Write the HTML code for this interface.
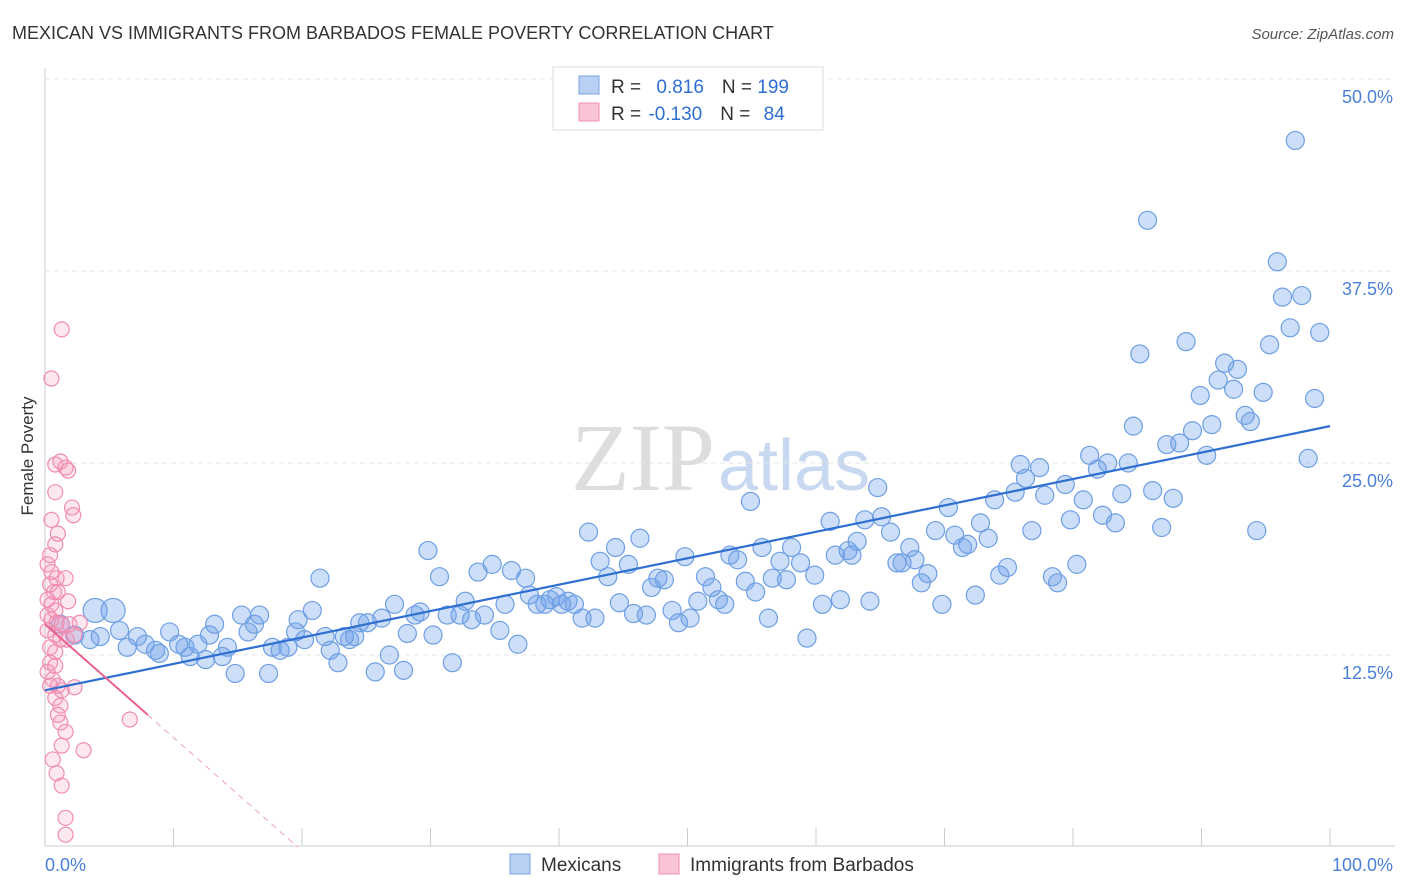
<!DOCTYPE html>
<html><head><meta charset="utf-8"><style>
body{margin:0;background:#fff;font-family:"Liberation Sans",sans-serif;overflow:hidden}
svg{display:block}
</style></head><body>
<svg id="c" width="1406" height="892">
<text x="12" y="39" font-size="18" fill="#333">MEXICAN VS IMMIGRANTS FROM BARBADOS FEMALE POVERTY CORRELATION CHART</text>
<text x="1394" y="39" font-size="15" fill="#555" font-style="italic" text-anchor="end">Source: ZipAtlas.com</text>
<text x="33" y="456" font-size="17" fill="#333" transform="rotate(-90 33 456)" text-anchor="middle">Female Poverty</text>
<text x="715" y="490" font-size="96" fill="#ddd" text-anchor="end" font-family="Liberation Serif">ZIP</text>
<text x="718" y="490" font-size="72" fill="#c8d8f0">atlas</text>
<g id="grid"></g><g id="pts"></g><g id="lines"></g>
<g>
<rect x="553" y="67" width="270" height="63" fill="#fff" stroke="#ddd"/>
<rect x="579" y="76" width="20" height="18" fill="#b8d0f4" stroke="#7aa3e0"/>
<rect x="579" y="103" width="20" height="18" fill="#f9c4d4" stroke="#f090b0"/>
<text x="611" y="93" font-size="19" fill="#333">R = <tspan fill="#2f6fd0" dx="10">0.816</tspan><tspan dx="18" fill="#333">N = </tspan><tspan fill="#2f6fd0">199</tspan></text>
<text x="611" y="120" font-size="19" fill="#333">R = <tspan fill="#2f6fd0" dx="2">-0.130</tspan><tspan dx="18" fill="#333">N = </tspan><tspan fill="#2f6fd0" dx="8">84</tspan></text>
</g>
<g>
<rect x="510" y="854" width="20" height="20" fill="#b8d0f4" stroke="#7aa3e0"/>
<text x="541" y="871" font-size="19" fill="#333">Mexicans</text>
<rect x="659" y="854" width="20" height="20" fill="#f9c4d4" stroke="#f090b0"/>
<text x="690" y="871" font-size="19" fill="#333">Immigrants from Barbados</text>
</g>
</svg>
<script>
const yTicks=[12.5,25,37.5,50];
const yTickLabels=["12.5%","25.0%","37.5%","50.0%"];
const xTickLabels=["0.0%","100.0%"];
const blueX=[3.9,5.3,1.2,2.3,3.5,4.3,5.8,6.4,7.2,7.8,8.6,8.9,9.7,10.4,10.9,11.3,11.9,12.5,12.8,13.2,13.8,14.2,14.8,15.3,15.8,16.3,16.7,17.4,17.7,18.3,18.9,19.5,19.7,20.2,20.8,21.4,21.8,22.2,22.8,23.3,23.7,24.1,24.5,25.1,25.7,26.2,26.8,27.2,27.9,28.2,28.8,29.2,29.8,30.2,30.7,31.3,31.7,32.3,32.7,33.2,33.7,34.2,34.8,35.4,35.8,36.3,36.8,37.4,37.7,38.3,38.9,39.3,39.8,40.2,40.7,41.2,41.8,42.3,42.8,43.2,43.8,44.4,44.7,45.4,45.8,46.3,46.8,47.2,47.7,48.2,48.8,49.3,49.8,50.2,50.8,51.4,51.9,52.4,52.9,53.3,53.9,54.5,54.9,55.3,55.8,56.3,56.6,57.2,57.7,58.1,58.8,59.3,59.9,60.5,61.1,61.5,61.9,62.5,62.8,63.2,63.8,64.2,64.8,65.1,65.8,66.3,66.7,67.3,67.7,68.2,68.7,69.3,69.8,70.3,70.8,71.4,71.8,72.4,72.8,73.4,73.9,74.3,74.9,75.5,75.9,76.3,76.8,77.4,77.8,78.4,78.8,79.4,79.8,80.3,80.8,81.3,81.9,82.3,82.7,83.3,83.8,84.3,84.7,85.2,85.8,86.2,86.9,87.3,87.8,88.3,88.8,89.3,89.9,90.4,90.8,91.3,91.8,92.5,92.8,93.4,93.8,94.3,94.8,95.3,95.9,96.3,96.9,97.3,97.8,98.3,98.8,99.2];
const blueY=[15.4,15.4,14.5,13.8,13.5,13.7,14.1,13.0,13.7,13.2,12.8,12.6,14.0,13.2,13.0,12.4,13.2,12.2,13.8,14.5,12.4,13.0,11.3,15.1,14.0,14.5,15.1,11.3,13.0,12.8,13.0,14.0,14.8,13.5,15.4,17.5,13.7,12.8,12.0,13.7,13.5,13.7,14.6,14.6,11.4,14.9,12.5,15.8,11.5,13.9,15.1,15.3,19.3,13.8,17.6,15.1,12.0,15.1,16.0,14.8,17.9,15.1,18.4,14.1,15.8,18.0,13.2,17.5,16.4,15.8,15.8,16.1,16.3,15.8,16.0,15.8,14.9,20.5,14.9,18.6,17.6,19.5,15.9,18.4,15.2,20.1,15.1,16.9,17.5,17.4,15.4,14.6,18.9,14.9,16.0,17.6,16.9,16.1,15.8,19.0,18.7,17.3,22.5,16.6,19.5,14.9,17.5,18.6,17.4,19.5,18.5,13.6,17.7,15.8,21.2,19.0,16.1,19.3,19.0,19.9,21.3,16.0,23.4,21.5,20.5,18.5,18.5,19.5,18.7,17.2,17.8,20.6,15.8,22.1,20.3,19.5,19.7,16.4,21.1,20.1,22.6,17.7,18.2,23.1,24.9,24.0,20.6,24.7,22.9,17.6,17.2,23.6,21.3,18.4,22.6,25.5,24.6,21.6,25.0,21.1,23.0,25.0,27.4,32.1,40.8,23.2,20.8,26.2,22.7,26.3,32.9,27.1,29.4,25.5,27.5,30.4,31.5,29.8,31.1,28.1,27.7,20.6,29.6,32.7,38.1,35.8,33.8,46.0,35.9,25.3,29.2,33.5];
const pinkX=[1.3,0.5,0.8,1.2,1.6,1.8,0.8,0.5,2.1,2.2,1.0,0.8,0.4,0.2,0.5,0.9,1.6,0.4,0.7,1.0,0.2,0.5,0.8,1.8,0.2,0.5,0.9,1.3,1.9,2.7,0.2,0.8,1.2,1.7,2.3,0.4,0.8,0.4,0.8,0.2,0.6,1.0,1.3,2.3,0.4,0.8,1.2,1.0,1.2,1.6,6.6,1.3,3.0,0.6,0.9,1.3,1.6,1.6];
const pinkY=[33.7,30.5,24.9,25.1,24.7,24.5,23.1,21.3,22.1,21.6,20.4,19.7,19.0,18.4,17.9,17.5,17.5,17.1,16.6,16.6,16.1,15.8,15.4,16.0,15.1,14.8,14.6,14.5,14.5,14.6,14.1,13.8,13.5,13.5,13.8,13.0,12.7,12.0,11.8,11.4,10.9,10.5,10.2,10.4,10.5,9.7,9.2,8.6,8.1,7.5,8.3,6.6,6.3,5.7,4.8,4.0,1.9,0.8];
const blueTrend=[10.2,27.4];
const pinkTrendX=[0,8];
const pinkTrendY=[14.5,8.6];
const NS="http://www.w3.org/2000/svg";
const X=v=>45+v*12.85, Y=v=>847-v*15.36;
function mk(t,a,p){const e=document.createElementNS(NS,t);for(const k in a)e.setAttribute(k,a[k]);p.appendChild(e);return e;}
const grid=document.getElementById('grid'),pts=document.getElementById('pts'),lines=document.getElementById('lines');
let ax=mk('line',{x1:45,y1:68,x2:45,y2:846,stroke:'#ccc'},grid);

let bx=mk('line',{x1:45,y1:846,x2:1395,y2:846,stroke:'#ccc'},grid);

for(let i=1;i<=10;i++){const t=mk('line',{x1:X(i*10),y1:828,x2:X(i*10),y2:846,stroke:'#ccc'},grid);
}
yTicks.forEach((v,i)=>{const g=mk('line',{x1:45,x2:1395,y1:Y(v),y2:Y(v),stroke:'#e4e4e4','stroke-dasharray':'5,4'},grid);

const t=mk('text',{x:1393,y:Y(v)+24,'font-size':18,fill:'#4a80d8','text-anchor':'end'},grid);t.textContent=yTickLabels[i];
});
xTickLabels.forEach((s,i)=>{const t=mk('text',{x:i?1393:45,y:871,'font-size':18,fill:'#4a80d8','text-anchor':i?'end':'start'},grid);t.textContent=s;
});
blueX.forEach((x,i)=>{const r=(i<2)?12:9;const c=mk('circle',{cx:X(x),cy:Y(blueY[i]),r:r,fill:'rgba(110,160,235,0.35)',stroke:'#6e9fe3','stroke-width':1.2},pts);
});
pinkX.forEach((x,i)=>{const c=mk('circle',{cx:X(x),cy:Y(pinkY[i]),r:7.5,fill:'rgba(245,150,185,0.22)',stroke:'#f08cb0','stroke-width':1.2},pts);
});
let bl=mk('line',{x1:X(0),y1:Y(blueTrend[0]),x2:X(100),y2:Y(blueTrend[1]),stroke:'#2f6fd0','stroke-width':2.2},lines);

const slope=(pinkTrendY[1]-pinkTrendY[0])/(pinkTrendX[1]-pinkTrendX[0]);
const pv=x=>pinkTrendY[0]+slope*(x-pinkTrendX[0]);
let pl=mk('line',{x1:X(pinkTrendX[0]),y1:Y(pinkTrendY[0]),x2:X(pinkTrendX[1]),y2:Y(pinkTrendY[1]),stroke:'#e8608e','stroke-width':2},lines);

const x0=pinkTrendX[0]-pinkTrendY[0]/slope;
let pd=mk('line',{x1:X(pinkTrendX[1]),y1:Y(pinkTrendY[1]),x2:X(x0),y2:Y(0),stroke:'#f0a0bc','stroke-width':1,'stroke-dasharray':'6,5'},lines);

</script>
</body></html>
